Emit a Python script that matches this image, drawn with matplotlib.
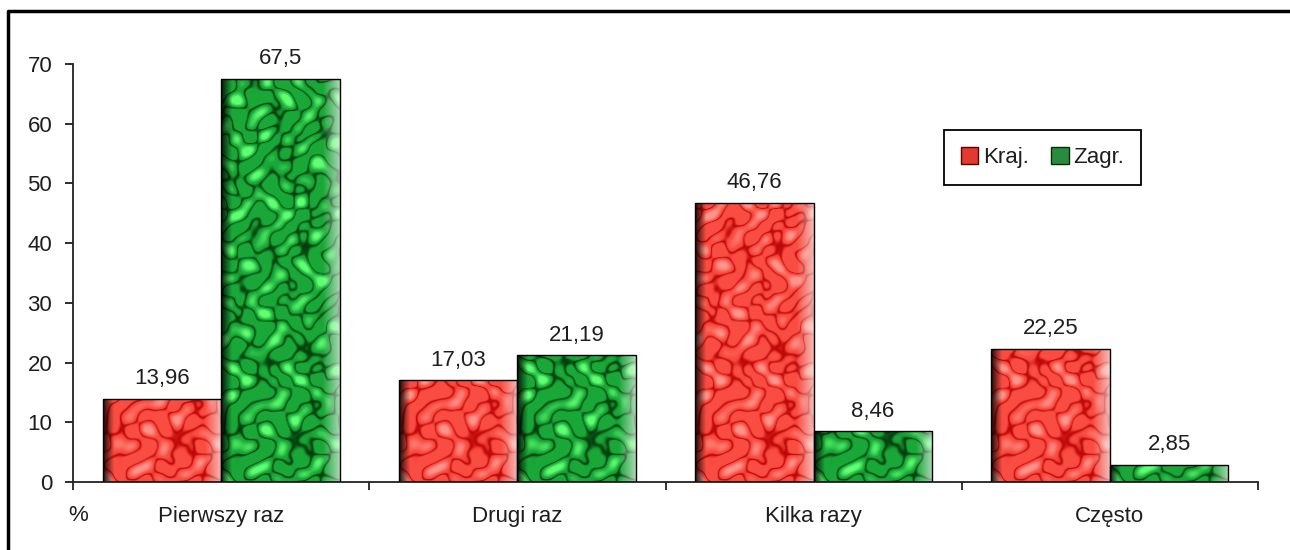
import numpy as np
import matplotlib
matplotlib.use('Agg')
import matplotlib.pyplot as plt
from matplotlib.lines import Line2D
from matplotlib.patches import Patch

plt.rcParams['font.family'] = ['Liberation Sans', 'DejaVu Sans']

categories = ['Pierwszy raz', 'Drugi raz', 'Kilka razy', 'Często']
kraj = [13.96, 17.03, 46.76, 22.25]
zagr = [67.5, 21.19, 8.46, 2.85]
kraj_labels = ['13,96', '17,03', '46,76', '22,25']
zagr_labels = ['67,5', '21,19', '8,46', '2,85']
yticks = [0, 10, 20, 30, 40, 50, 60, 70]

FS = 16
TXT = '#1e1e1e'


def texture(w, h, kind):
    # marble-like pattern built from fixed sinusoids (purely decorative)
    yy, xx = np.mgrid[0:h, 0:w].astype(float)
    n = (np.sin(xx / 6.1 + 2.4 * np.sin(yy / 9.3 + xx / 37.0))
         + np.sin(yy / 5.3 + 1.9 * np.sin(xx / 7.7 - yy / 41.0))
         + 0.8 * np.sin((xx - 0.7 * yy) / 4.1 + 1.3 * np.cos(yy / 12.7))
         + 0.6 * np.sin((0.5 * xx + yy) / 3.6 + 1.1 * np.sin(xx / 11.3)))
    veins = 0.9 * np.exp(-(n / 0.32) ** 2)
    spots = np.clip((n - 0.9) / 1.6, 0, 1)
    if kind == 'red':
        light = np.array([0.98, 0.30, 0.26])
        dark = np.array([0.72, 0.0, 0.0])
        hi = np.array([1.0, 0.58, 0.54])
    else:
        light = np.array([0.10, 0.66, 0.22])
        dark = np.array([0.0, 0.20, 0.03])
        hi = np.array([0.38, 1.0, 0.45])
    img = light * (1 - veins[..., None]) + dark * veins[..., None]
    img = img * (1 - spots[..., None]) + hi * spots[..., None]
    # left edge dark, right edge fading to white
    fx = xx[0] / max(w - 1, 1)
    left = np.clip(1 - fx / 0.09, 0, 1)
    right = np.clip((fx - 0.86) / 0.14, 0, 1)
    img = img * (1 - 0.85 * left[None, :, None])
    img = img * (1 - 0.65 * right[None, :, None]) + 0.95 * 0.65 * right[None, :, None]
    return np.clip(img, 0, 1)


fig = plt.figure(figsize=(12.9, 5.5), dpi=100)
ax = fig.add_axes([73 / 1290, 1 - 482 / 550, (1258 - 73) / 1290, (482 - 64) / 550])

x = np.arange(len(categories))
w = 0.4
bars_k = ax.bar(x - w / 2, kraj, w, facecolor='none', edgecolor='black', linewidth=1.0, zorder=3)
bars_g = ax.bar(x + w / 2, zagr, w, facecolor='none', edgecolor='black', linewidth=1.0, zorder=3)

ax.set_xlim(-0.5, len(categories) - 0.5)
ax.set_ylim(0, 70)

px_per_x = (1258 - 73) / 4.0
px_per_y = (482 - 64) / 70.0
for bars, kind in ((bars_k, 'red'), (bars_g, 'green')):
    for r in bars:
        x0, wd, ht = r.get_x(), r.get_width(), r.get_height()
        img = texture(int(wd * px_per_x), max(int(ht * px_per_y), 2), kind)
        im = ax.imshow(img, extent=(x0, x0 + wd, 0, ht), aspect='auto',
                       origin='lower', interpolation='bilinear', zorder=2)
        im.set_clip_path(r)

ax.set_xlim(-0.5, len(categories) - 0.5)
ax.set_ylim(0, 70)

for bars, labels in ((bars_k, kraj_labels), (bars_g, zagr_labels)):
    for r, lab in zip(bars, labels):
        ax.annotate(lab, (r.get_x() + r.get_width() / 2, r.get_height()),
                    xytext=(0, 7), textcoords='offset points',
                    ha='center', va='bottom', fontsize=FS, color=TXT)

ax.spines['top'].set_visible(False)
ax.spines['right'].set_visible(False)
for s in ('left', 'bottom'):
    ax.spines[s].set_linewidth(1.3)
    ax.spines[s].set_color('#222222')

ax.set_yticks(yticks)
ax.tick_params(axis='y', direction='out', length=6, width=1.3, pad=9,
               labelsize=FS, colors=TXT)
ax.set_xticks(x)
ax.set_xticklabels(categories)
ax.tick_params(axis='x', which='major', length=0, pad=17, labelsize=FS, colors=TXT)
ax.set_xticks(np.arange(-0.5, len(categories)), minor=True)
ax.tick_params(axis='x', which='minor', direction='out', length=6, width=1.3, color='#222222')

ax.text(0.004, -0.079, '%', transform=ax.transAxes, ha='center', va='center',
        fontsize=FS, color=TXT)

handles = [Patch(facecolor='#e23a30', edgecolor='#5a0000', label='Kraj.'),
           Patch(facecolor='#2a8a40', edgecolor='#003000', label='Zagr.')]
leg = ax.legend(handles=handles, ncol=2, loc='upper left', bbox_to_anchor=(0.735, 0.842),
                fontsize=FS, frameon=True, fancybox=False, framealpha=1,
                edgecolor='black', handlelength=0.8, handleheight=0.8,
                handletextpad=0.2, columnspacing=1.0, borderpad=0.75, borderaxespad=0)
leg.get_frame().set_linewidth(1.3)
for t in leg.get_texts():
    t.set_color(TXT)

# outer frame (top and left edges visible)
fig.add_artist(Line2D([8 / 1290, 8 / 1290, 1.0], [0.0, 1 - 11 / 550, 1 - 11 / 550],
                      transform=fig.transFigure, color='black', linewidth=2.5))

fig.savefig('out.png', dpi=100)
